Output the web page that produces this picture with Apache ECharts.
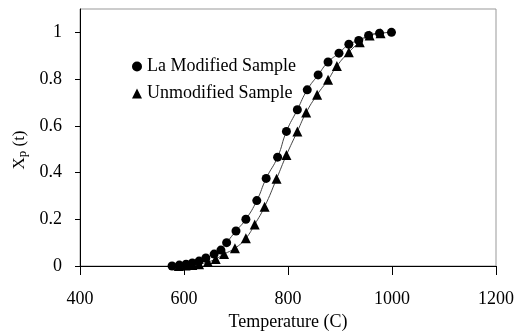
<!DOCTYPE html>
<html>
<head>
<meta charset="utf-8">
<script src="https://cdn.jsdelivr.net/npm/echarts@6/dist/echarts.min.js"></script>
<style>
html,body{margin:0;padding:0;background:#fff;}
#chart{width:517px;height:336px;}
</style>
</head>
<body>
<div id="chart"></div>
<script>
// Data
const laTemp = [577, 591, 604, 616, 629, 642, 658, 671, 682, 700, 719, 740, 758, 780, 797, 818, 837, 858, 877, 898, 917, 936, 955, 976, 999];
const laXp   = [0, 0.004, 0.008, 0.013, 0.021, 0.034, 0.051, 0.068, 0.10, 0.15, 0.20, 0.28, 0.375, 0.466, 0.576, 0.669, 0.754, 0.818, 0.873, 0.911, 0.949, 0.965, 0.987, 0.996, 1.0];
const unTemp = [590, 603, 616, 629, 646, 661, 677, 698, 719, 736, 755, 778, 797, 818, 835, 856, 877, 894, 917, 938, 957, 978];
const unXp   = [0, 0.002, 0.004, 0.008, 0.017, 0.03, 0.051, 0.076, 0.119, 0.178, 0.254, 0.373, 0.475, 0.576, 0.657, 0.733, 0.797, 0.856, 0.915, 0.958, 0.987, 0.996];
const seriesNames = ['La Modified Sample', 'Unmodified Sample'];
const yTicks = [0, 0.2, 0.4, 0.6, 0.8, 1];
const xTicks = [400, 600, 800, 1000, 1200];

const FONT = 'Liberation Serif';
const pairs = (xs, ys) => xs.map((x, i) => [x, ys[i]]);

const chart = echarts.init(document.getElementById('chart'));
chart.setOption({
  backgroundColor: '#fff',
  animation: false,
  grid: { left: 80, right: 18, top: 9, bottom: 67, show: true, borderColor: '#999', borderWidth: 1 },
  legend: {
    orient: 'vertical', left: 127, top: 52, itemGap: 8,
    itemWidth: 10, itemHeight: 10,
    textStyle: { fontFamily: FONT, fontSize: 18, color: '#000', lineHeight: 19 },
    data: [
      { name: seriesNames[0], icon: 'circle', itemStyle: { color: '#000' } },
      { name: seriesNames[1], icon: 'triangle', itemStyle: { color: '#000' } }
    ]
  },
  graphic: [{
    type: 'text', x: 20, y: 150, rotation: Math.PI / 2,
    style: {
      text: '{x|X}{p|p}{x| (t)}', align: 'center', verticalAlign: 'middle', fill: '#000',
      rich: { x: { fontFamily: FONT, fontSize: 17, fill: '#000' },
              p: { fontFamily: FONT, fontSize: 13, fill: '#000', padding: [6, 0, 0, 0] } }
    }
  }],
  xAxis: {
    type: 'value', min: 400, max: 1200, interval: 200,
    name: 'Temperature (C)', nameLocation: 'middle', nameGap: 47,
    nameTextStyle: { fontFamily: FONT, fontSize: 18, color: '#000' },
    axisLine: { show: true, lineStyle: { color: '#000', width: 1 } },
    axisTick: { show: true, length: 9, lineStyle: { color: '#000' }, customValues: xTicks },
    axisLabel: { margin: 24, fontFamily: FONT, fontSize: 18, color: '#000', customValues: xTicks,
      formatter: v => String(v) },
    splitLine: { show: false }
  },
  yAxis: {
    type: 'value', min: 0, max: 1.1, interval: 0.2,
    axisLine: { show: true, lineStyle: { color: '#000', width: 1 } },
    axisTick: { show: true, length: 5, lineStyle: { color: '#000' }, customValues: yTicks },
    axisLabel: { margin: 18, fontFamily: FONT, fontSize: 18, color: '#000', customValues: yTicks,
      formatter: v => String(Math.round(v * 10) / 10) },
    splitLine: { show: false }
  },
  series: [
    {
      name: seriesNames[0], type: 'line', smooth: true,
      data: pairs(laTemp, laXp),
      symbol: 'circle', symbolSize: 9,
      itemStyle: { color: '#000' },
      lineStyle: { color: '#444', width: 1 }
    },
    {
      name: seriesNames[1], type: 'line', smooth: true,
      data: pairs(unTemp, unXp),
      symbol: 'triangle', symbolSize: 10,
      itemStyle: { color: '#000' },
      lineStyle: { color: '#444', width: 1 }
    }
  ]
});
</script>
</body>
</html>
